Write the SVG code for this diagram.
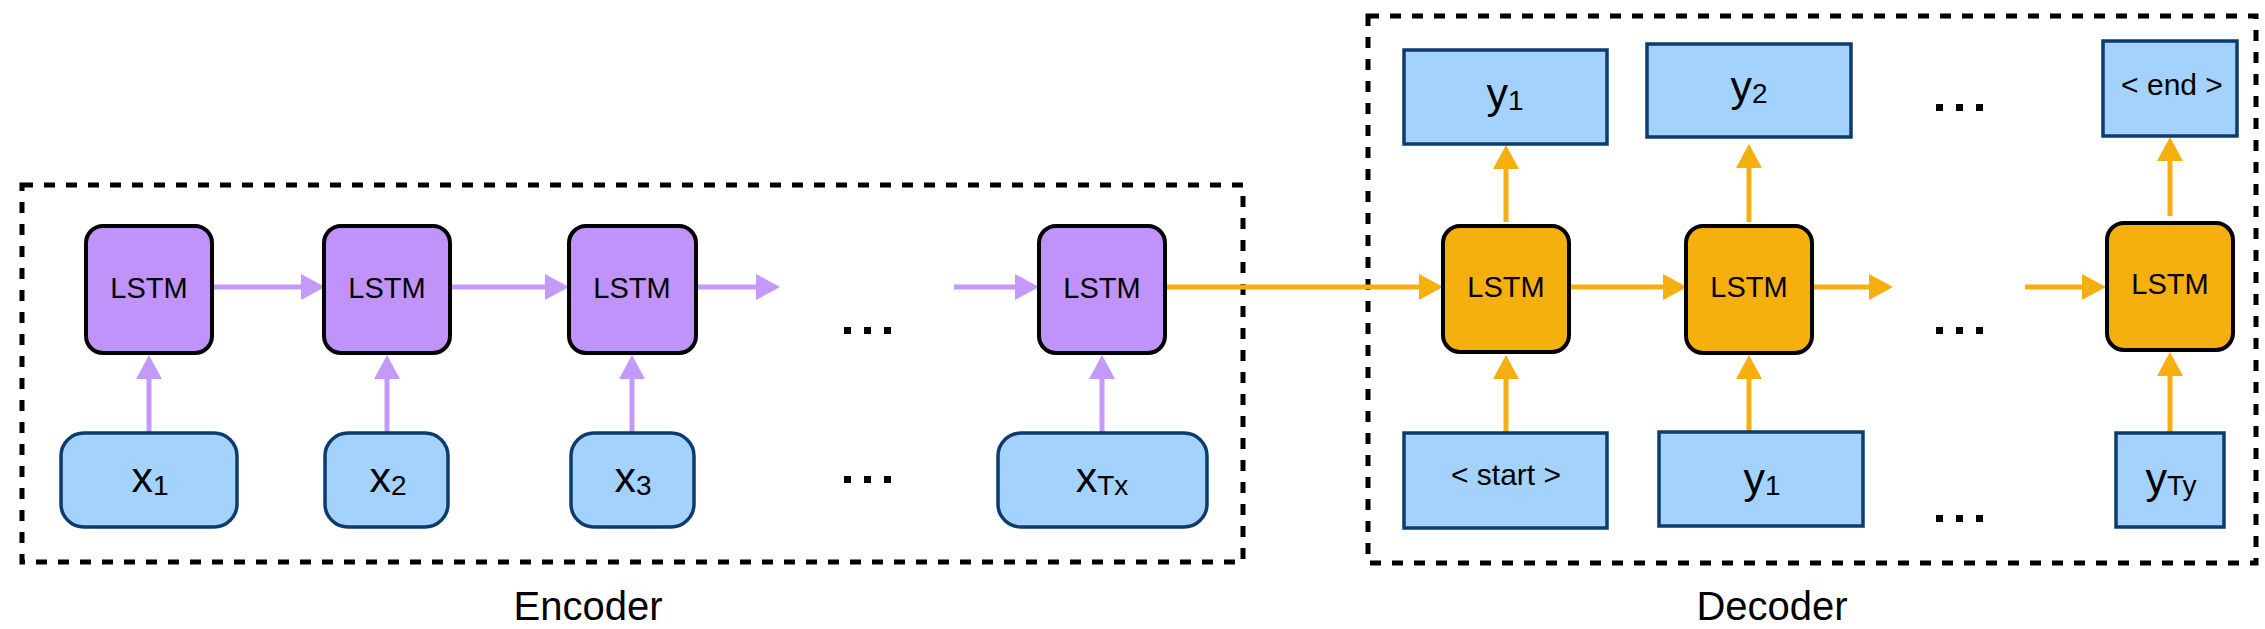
<svg xmlns="http://www.w3.org/2000/svg" width="2265" height="629" viewBox="0 0 2265 629">
<style>
  text { font-family: "Liberation Sans", Arial, Helvetica, sans-serif; fill: #000; text-anchor: middle; }
  .frame { fill: none; stroke: #000; stroke-width: 5; stroke-dasharray: 11 11; }
  .enc { fill: #C093FA; stroke: #000; stroke-width: 4; }
  .dec { fill: #F5AF0E; stroke: #000; stroke-width: 4; }
  .tok { fill: #A3D3FD; stroke: #0D3B6C; stroke-width: 3.5; }
  .lstm { font-size: 29px; }
  .big { font-size: 43px; }
  .sub { font-size: 28px; }
  .mid { font-size: 30px; }
  .lbl { font-size: 40px; }
  .pa { stroke: #C399F9; stroke-width: 5; fill: none; marker-end: url(#hp); }
  .oa { stroke: #F5AF0E; stroke-width: 5; fill: none; marker-end: url(#ho); }
  .dot { fill: #000; }
</style>
<defs>
  <marker id="hp" viewBox="0 0 24 26" refX="12" refY="13" markerWidth="24" markerHeight="26" markerUnits="userSpaceOnUse" orient="auto">
    <path d="M0,0 L24,13 L0,26 Z" fill="#C399F9"/>
  </marker>
  <marker id="ho" viewBox="0 0 24 26" refX="12" refY="13" markerWidth="24" markerHeight="26" markerUnits="userSpaceOnUse" orient="auto">
    <path d="M0,0 L24,13 L0,26 Z" fill="#F5AF0E"/>
  </marker>
</defs>
<rect width="2265" height="629" fill="#fff"/>

<g id="encoder-frame">
  <rect class="frame" x="22" y="185" width="1221" height="377"/>
  <text class="lbl" x="588" y="620">Encoder</text>
</g>
<g id="decoder-frame">
  <rect class="frame" x="1368" y="16" width="888" height="547"/>
  <text class="lbl" x="1772" y="620">Decoder</text>
</g>

<g id="connectors">
  <line class="pa" x1="212" y1="287" x2="313" y2="287"/>
  <line class="pa" x1="450" y1="287" x2="557" y2="287"/>
  <line class="pa" x1="696" y1="287" x2="768" y2="287"/>
  <line class="pa" x1="954" y1="287" x2="1027" y2="287"/>
  <line class="pa" x1="149" y1="433" x2="149" y2="367"/>
  <line class="pa" x1="387" y1="433" x2="387" y2="367"/>
  <line class="pa" x1="632" y1="433" x2="632" y2="367"/>
  <line class="pa" x1="1102" y1="433" x2="1102" y2="367"/>
  <line class="oa" x1="1165" y1="287" x2="1431" y2="287"/>
  <line class="oa" x1="1571" y1="287" x2="1675" y2="287"/>
  <line class="oa" x1="1812" y1="287" x2="1881" y2="287"/>
  <line class="oa" x1="2025" y1="287" x2="2094" y2="287"/>
  <line class="oa" x1="1506" y1="433" x2="1506" y2="367"/>
  <line class="oa" x1="1749" y1="433" x2="1749" y2="367"/>
  <line class="oa" x1="2170" y1="433" x2="2170" y2="364"/>
  <line class="oa" x1="1506" y1="222" x2="1506" y2="157"/>
  <line class="oa" x1="1749" y1="222" x2="1749" y2="156"/>
  <line class="oa" x1="2170" y1="216" x2="2170" y2="149"/>
</g>

<g id="enc-lstm1"><rect class="enc" x="86" y="226" width="126" height="127" rx="17"/><text class="lstm" x="149" y="298">LSTM</text></g>
<g id="enc-lstm2"><rect class="enc" x="324" y="226" width="126" height="127" rx="17"/><text class="lstm" x="387" y="298">LSTM</text></g>
<g id="enc-lstm3"><rect class="enc" x="569" y="226" width="127" height="127" rx="17"/><text class="lstm" x="632" y="298">LSTM</text></g>
<g id="enc-lstm4"><rect class="enc" x="1039" y="226" width="126" height="127" rx="17"/><text class="lstm" x="1102" y="298">LSTM</text></g>

<g id="x1"><rect class="tok" x="61" y="433" width="176" height="94" rx="23"/><text class="big" x="150" y="492">x<tspan class="sub" dy="3">1</tspan></text></g>
<g id="x2"><rect class="tok" x="325" y="433" width="123" height="94" rx="23"/><text class="big" x="388" y="492">x<tspan class="sub" dy="3">2</tspan></text></g>
<g id="x3"><rect class="tok" x="571" y="433" width="123" height="94" rx="23"/><text class="big" x="633" y="492">x<tspan class="sub" dy="3">3</tspan></text></g>
<g id="xTx"><rect class="tok" x="998" y="433" width="209" height="94" rx="23"/><text class="big" x="1102" y="492">x<tspan class="sub" dy="3">Tx</tspan></text></g>

<g id="enc-dots">
  <rect class="dot" x="844" y="327" width="7" height="7"/><rect class="dot" x="864" y="327" width="7" height="7"/><rect class="dot" x="884" y="327" width="7" height="7"/>
  <rect class="dot" x="844" y="476" width="7" height="7"/><rect class="dot" x="864" y="476" width="7" height="7"/><rect class="dot" x="884" y="476" width="7" height="7"/>
</g>

<g id="dec-lstm1"><rect class="dec" x="1443" y="226" width="126" height="126" rx="17"/><text class="lstm" x="1506" y="297">LSTM</text></g>
<g id="dec-lstm2"><rect class="dec" x="1686" y="226" width="126" height="127" rx="17"/><text class="lstm" x="1749" y="297">LSTM</text></g>
<g id="dec-lstm3"><rect class="dec" x="2107" y="223" width="126" height="127" rx="17"/><text class="lstm" x="2170" y="294">LSTM</text></g>

<g id="y1-out"><rect class="tok" x="1404" y="50" width="203" height="94"/><text class="big" x="1505" y="108">y<tspan class="sub" dy="2">1</tspan></text></g>
<g id="y2-out"><rect class="tok" x="1647" y="44" width="204" height="93"/><text class="big" x="1749" y="101">y<tspan class="sub" dy="2">2</tspan></text></g>
<g id="end-out"><rect class="tok" x="2103" y="41" width="134" height="95"/><text class="mid" x="2172" y="95">&lt; end &gt;</text></g>

<g id="start-in"><rect class="tok" x="1404" y="433" width="203" height="95"/><text class="mid" x="1506" y="485">&lt; start &gt;</text></g>
<g id="y1-in"><rect class="tok" x="1659" y="432" width="204" height="94"/><text class="big" x="1762" y="493">y<tspan class="sub" dy="2">1</tspan></text></g>
<g id="yTy-in"><rect class="tok" x="2116" y="433" width="108" height="94"/><text class="big" x="2171" y="493">y<tspan class="sub" dy="2">Ty</tspan></text></g>

<g id="dec-dots">
  <rect class="dot" x="1936" y="104" width="7" height="7"/><rect class="dot" x="1956" y="104" width="7" height="7"/><rect class="dot" x="1976" y="104" width="7" height="7"/>
  <rect class="dot" x="1936" y="327" width="7" height="7"/><rect class="dot" x="1956" y="327" width="7" height="7"/><rect class="dot" x="1976" y="327" width="7" height="7"/>
  <rect class="dot" x="1936" y="515" width="7" height="7"/><rect class="dot" x="1956" y="515" width="7" height="7"/><rect class="dot" x="1976" y="515" width="7" height="7"/>
</g>
</svg>
